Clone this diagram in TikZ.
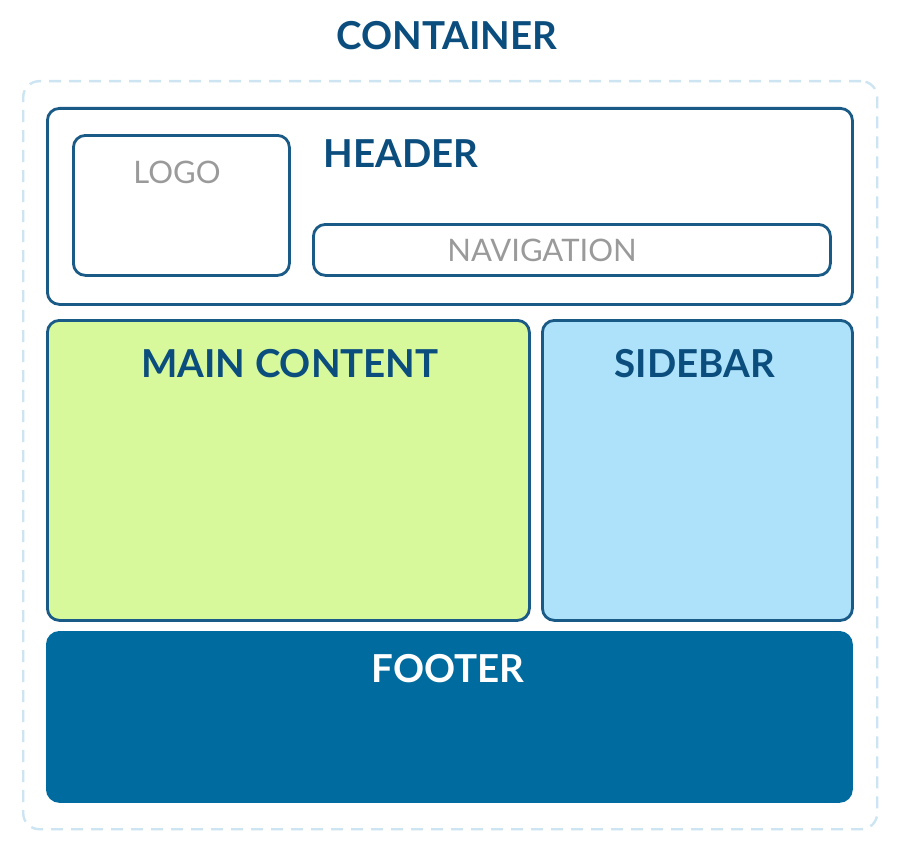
\documentclass[tikz,border=0pt]{standalone}
\usepackage{fontspec}
\setmainfont{Lato}
\newfontfamily\latobold{Lato Bold}
\definecolor{titleblue}{HTML}{0B4E7E}
\definecolor{edgeblue}{HTML}{1A5A86}
\definecolor{dashblue}{HTML}{CDE4F2}
\definecolor{maingreen}{HTML}{D7F99C}
\definecolor{sideblue}{HTML}{AEE2FA}
\definecolor{footblue}{HTML}{006B9E}
\definecolor{labelgray}{HTML}{9A9A9A}
\begin{document}
\begin{tikzpicture}[x=1pt,y=-1pt,
  region/.style={draw=edgeblue,line width=2.8pt,rounded corners=12pt,
    anchor=north west,inner sep=0pt},
  wrapper/.style={draw=dashblue,line width=2.4pt,dash pattern=on 12pt off 8pt,
    rounded corners=16pt,anchor=north west,inner sep=0pt},
  heading/.style={anchor=base,inner sep=0pt,font=\latobold\fontsize{38.5}{38.5}\selectfont,text=titleblue},
  slot/.style={anchor=base,inner sep=0pt,font=\fontsize{31}{31}\selectfont,text=labelgray}]
\useasboundingbox (0,0) rectangle (912,856);
% outer dashed container
\node[wrapper,minimum width=854pt,minimum height=748pt] (container) at (22,80) {};
\node[heading] (containerlabel) at (447,50) {CONTAINER};
% header with logo and navigation
\node[region,minimum width=805pt,minimum height=196pt] (header) at (46,107) {};
\node[region,minimum width=216pt,minimum height=140pt] (logo) at (72,134) {};
\node[region,minimum width=517pt,minimum height=51pt] (nav) at (312,223) {};
\node[heading] (headerlabel) at (401,167) {HEADER};
\node[slot] (logolabel) at (177,183) {LOGO};
\node[slot] (navlabel) at (542,261) {NAVIGATION};
% content row
\node[region,fill=maingreen,minimum width=482pt,minimum height=300pt] (main) at (46,319) {};
\node[region,fill=sideblue,minimum width=310pt,minimum height=300pt] (sidebar) at (541,319) {};
\node[heading] (mainlabel) at (290,377) {MAIN CONTENT};
\node[heading] (sidebarlabel) at (695,377) {SIDEBAR};
% footer
\node[region,draw=footblue,fill=footblue,minimum width=804pt,minimum height=169pt] (footer) at (46,631) {};
\node[heading,text=white] (footerlabel) at (448,682) {FOOTER};
\end{tikzpicture}
\end{document}
